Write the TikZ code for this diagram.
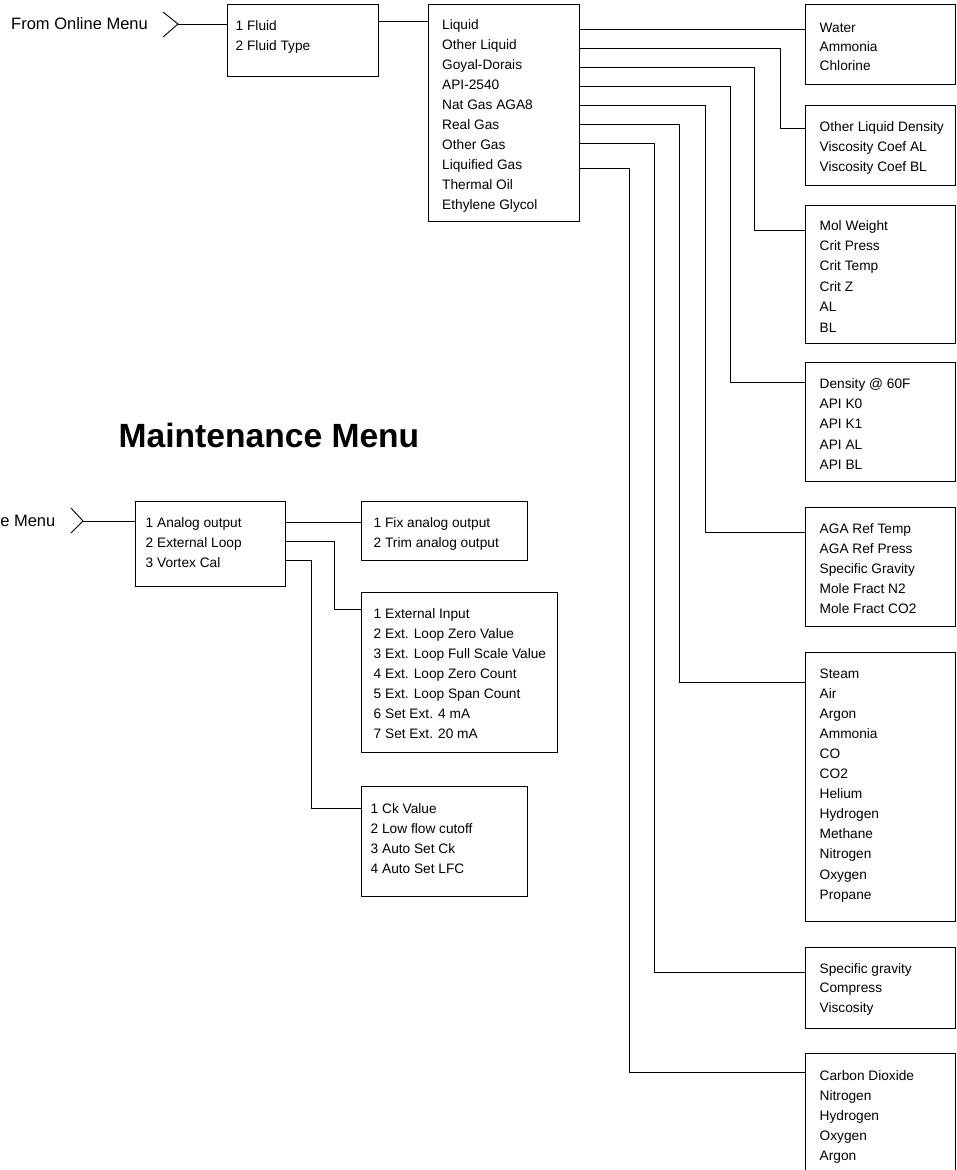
\documentclass[tikz,border=0pt]{standalone}
\usepackage{fontspec}
\setmainfont{Liberation Sans}
\usetikzlibrary{fit}
\newcommand\mlines[1]{\begin{tabular}[t]{@{}l@{}}#1\end{tabular}}
\begin{document}
\begin{tikzpicture}[x=1pt,y=-1pt,
  box/.style={draw, line width=0.9pt, inner sep=0pt, fit={#1}},
  txt/.style={inner sep=0pt, anchor=base west, font=\fontsize{13.7}{20}\selectfont},
  lbl/.style={inner sep=0pt, font=\fontsize{16.5}{19}\selectfont},
  wire/.style={line width=0.9pt}]
\useasboundingbox (0,0) rectangle (956,1170);

% ---------- Fluid menu ----------
\node[lbl, anchor=base west] (from) at (11,29.5) {From Online Menu};
\coordinate (chevA) at (163,12);
\coordinate (chevT) at (178,24);
\coordinate (chevB) at (163,37);
\draw[wire] (chevA) -- (chevT) -- (chevB);

\node[box={(227,4) (378,76)}] (box1) {};
\node[txt] (box1t) at (235.5,30) {\mlines{1 Fluid\\2 Fluid Type}};
\draw[wire] (chevT) -- (box1.west |- chevT);

\node[box={(428,4) (579,221)}] (list) {};
\node[txt] (listt) at (442,29.3) {\mlines{Liquid\\Other Liquid\\Goyal-Dorais\\API-2540\\Nat Gas AGA8\\Real Gas\\Other Gas\\Liquified Gas\\Thermal Oil\\Ethylene Glycol}};
\draw[wire] (box1.east |- 0,21) -- (list.west |- 0,21);

\node[box={(805,4) (955,84)}] (water) {};
\node[txt, font=\fontsize{13.7}{19.3}\selectfont] (watert) at (819.5,32) {\mlines{Water\\Ammonia\\Chlorine}};

\node[box={(805,105) (955,185)}] (oliq) {};
\node[txt] (oliqt) at (819.5,131) {\mlines{Other Liquid Density\\Viscosity Coef AL\\Viscosity Coef BL}};

\node[box={(805,205) (955,343)}] (mol) {};
\node[txt, font=\fontsize{13.7}{20.4}\selectfont] (molt) at (819.5,230) {\mlines{Mol Weight\\Crit Press\\Crit Temp\\Crit Z\\AL\\BL}};

\node[box={(805,362) (955,481)}] (dens) {};
\node[txt, font=\fontsize{13.7}{20.4}\selectfont] (denst) at (819.5,388) {\mlines{Density @ 60F\\API K0\\API K1\\API AL\\API BL}};

\node[box={(805,507) (955,626)}] (aga) {};
\node[txt] (agat) at (819.5,533) {\mlines{AGA Ref Temp\\AGA Ref Press\\Specific Gravity\\Mole Fract N2\\Mole Fract CO2}};

\node[box={(805,652) (955,921)}] (steam) {};
\node[txt, font=\fontsize{13.7}{20.1}\selectfont] (steamt) at (819.5,678) {\mlines{Steam\\Air\\Argon\\Ammonia\\CO\\CO2\\Helium\\Hydrogen\\Methane\\Nitrogen\\Oxygen\\Propane}};

\node[box={(805,947) (955,1028)}] (sg) {};
\node[txt, font=\fontsize{13.7}{19.7}\selectfont] (sgt) at (819.5,973) {\mlines{Specific gravity\\Compress\\Viscosity}};

\node[box={(805,1053) (955,1185)}] (gas) {};
\node[txt] (gast) at (819.5,1080) {\mlines{Carbon Dioxide\\Nitrogen\\Hydrogen\\Oxygen\\Argon}};

\draw[wire] (list.east |- 0,29) -- (water.west |- 0,29);
\draw[wire] (list.east |- 0,48) -| (780,128) -- (oliq.west |- 0,128);
\draw[wire] (list.east |- 0,67) -| (754,230) -- (mol.west |- 0,230);
\draw[wire] (list.east |- 0,86) -| (730,382) -- (dens.west |- 0,382);
\draw[wire] (list.east |- 0,105) -| (705,532) -- (aga.west |- 0,532);
\draw[wire] (list.east |- 0,124) -| (679,682) -- (steam.west |- 0,682);
\draw[wire] (list.east |- 0,143) -| (654,972) -- (sg.west |- 0,972);
\draw[wire] (list.east |- 0,168) -| (629,1072) -- (gas.west |- 0,1072);

% ---------- Maintenance menu ----------
\node[inner sep=0pt, anchor=base west, font=\bfseries\fontsize{33.6}{38}\selectfont] (title) at (118.5,447) {Maintenance Menu};

\node[lbl, anchor=base east] (from2) at (55.5,526) {e Menu};
\coordinate (chev2A) at (71,508);
\coordinate (chev2T) at (83,521);
\coordinate (chev2B) at (71,533);
\draw[wire] (chev2A) -- (chev2T) -- (chev2B);

\node[box={(135,501) (285,586)}] (maint) {};
\node[txt] (maintt) at (145.5,527) {\mlines{1 Analog output\\2 External Loop\\3 Vortex Cal}};
\draw[wire] (chev2T) -- (maint.west |- chev2T);

\node[box={(361,501) (527,560)}] (fix) {};
\node[txt] (fixt) at (373.5,527) {\mlines{1 Fix analog output\\2 Trim analog output}};

\node[box={(361,592) (557,752)}] (ext) {};
\node[txt] (extt) at (373.5,618) {\mlines{1 External Input\\2 Ext. Loop Zero Value\\3 Ext. Loop Full Scale Value\\4 Ext. Loop Zero Count\\5 Ext. Loop Span Count\\6 Set Ext. 4 mA\\7 Set Ext. 20 mA}};

\node[box={(361,786) (527,896)}] (ck) {};
\node[txt] (ckt) at (370.5,813) {\mlines{1 Ck Value\\2 Low flow cutoff\\3 Auto Set Ck\\4 Auto Set LFC}};

\draw[wire] (maint.east |- 0,522) -- (fix.west |- 0,522);
\draw[wire] (maint.east |- 0,541) -| (334,609) -- (ext.west |- 0,609);
\draw[wire] (maint.east |- 0,560) -| (311,808) -- (ck.west |- 0,808);
\end{tikzpicture}
\end{document}
